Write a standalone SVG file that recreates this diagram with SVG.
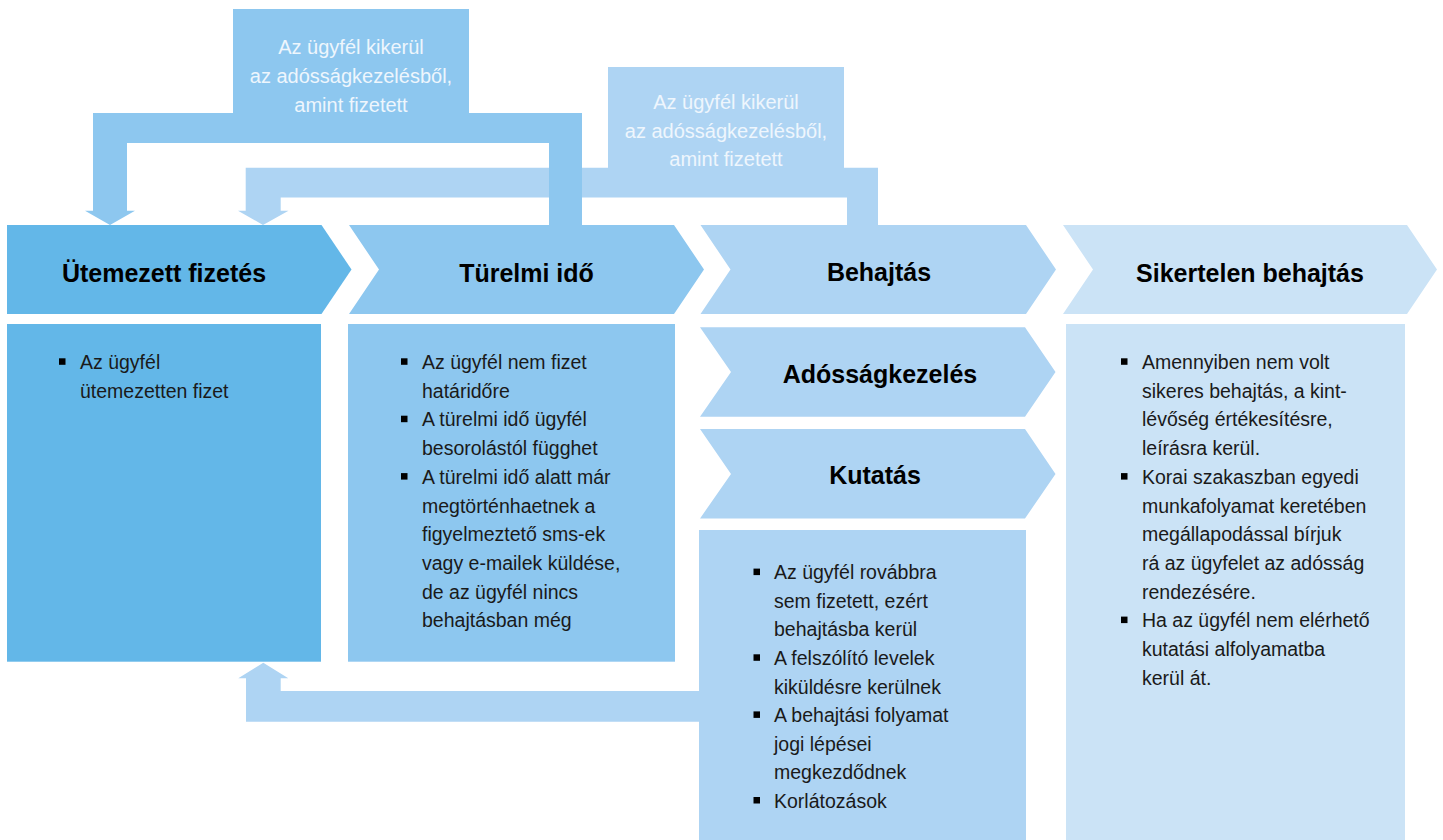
<svg xmlns="http://www.w3.org/2000/svg" width="1443" height="840" viewBox="0 0 1443 840">
<style>
.c1{fill:#63b7e8}
.c2{fill:#8dc7ef}
.c3{fill:#aed4f3}
.c4{fill:#cbe3f6}
.title{font-family:"Liberation Sans",Arial,sans-serif;font-size:25px;font-weight:bold;fill:#000;text-anchor:middle}
.body{font-family:"Liberation Sans",Arial,sans-serif;font-size:19.5px;fill:#1a1a1a}
.lbl{font-family:"Liberation Sans",Arial,sans-serif;font-size:20px;fill:#eef6fd;text-anchor:middle}
.bul{fill:#000}
</style>
<rect width="1443" height="840" fill="#ffffff"/>

<g id="connectors">
  <g id="conn-behajtas-to-utemezett">
    <rect class="c3" x="608" y="67" width="236" height="101"/>
    <polygon class="c3" points="263,225 288.5,210.7 280.7,210.7 280.7,197.5 847,197.5 847,225 878,225 878,167.7 245.7,167.7 245.7,210.7 238,210.7"/>
    <text class="lbl" x="726"><tspan x="726" y="109">Az ügyfél kikerül</tspan><tspan x="726" y="138">az adósságkezelésből,</tspan><tspan x="726" y="166">amint fizetett</tspan></text>
  </g>
  <g id="conn-turelmi-to-utemezett">
    <rect class="c2" x="233" y="9" width="236" height="104"/>
    <polygon class="c2" points="110,225 135,210.7 127,210.7 127,143 549,143 549,225 582,225 582,113 93,113 93,210.7 85,210.7"/>
    <text class="lbl" x="351"><tspan x="351" y="54">Az ügyfél kikerül</tspan><tspan x="351" y="83">az adósságkezelésből,</tspan><tspan x="351" y="112">amint fizetett</tspan></text>
  </g>
  <g id="conn-behajtas-back">
    <polygon class="c3" points="263.3,662.7 288.3,678.3 280.7,678.3 280.7,691 700,691 700,721.7 246,721.7 246,678.3 238.3,678.3"/>
  </g>
</g>

<g id="node-utemezett">
  <polygon class="c1" points="7,225 321.5,225 351.5,269.5 321.5,314 7,314"/>
  <text class="title" x="164" y="282">Ütemezett fizetés</text>
  <rect class="c1" x="7" y="324" width="314" height="337.7"/>
  <rect class="bul" x="59" y="358.3" width="6.5" height="6.5"/>
  <text class="body"><tspan x="80" y="369">Az ügyfél</tspan><tspan x="80" y="397.7">ütemezetten fizet</tspan></text>
</g>

<g id="node-turelmi">
  <polygon class="c2" points="349,225 674,225 704,269.5 674,314 349,314 379,269.5"/>
  <text class="title" x="526.5" y="282">Türelmi idő</text>
  <rect class="c2" x="348" y="324" width="327" height="337.7"/>
  <rect class="bul" x="401" y="358.3" width="6.5" height="6.5"/>
  <rect class="bul" x="401" y="415.7" width="6.5" height="6.5"/>
  <rect class="bul" x="401" y="473.1" width="6.5" height="6.5"/>
  <text class="body"><tspan x="422" y="369">Az ügyfél nem fizet</tspan><tspan x="422" y="397.7">határidőre</tspan><tspan x="422" y="426.4">A türelmi idő ügyfél</tspan><tspan x="422" y="455.1">besorolástól függhet</tspan><tspan x="422" y="483.8">A türelmi idő alatt már</tspan><tspan x="422" y="512.5">megtörténhaetnek a</tspan><tspan x="422" y="541.2">figyelmeztető sms-ek</tspan><tspan x="422" y="569.9">vagy e-mailek küldése,</tspan><tspan x="422" y="598.6">de az ügyfél nincs</tspan><tspan x="422" y="627.3">behajtásban még</tspan></text>
</g>

<g id="node-behajtas">
  <polygon class="c3" points="700.5,225 1026,225 1056,269.5 1026,314 700.5,314 730.5,269.5"/>
  <text class="title" x="879" y="281">Behajtás</text>
</g>

<g id="node-adossagkezeles">
  <polygon class="c3" points="700,327.3 1025,327.3 1055.5,372 1025,416.7 700,416.7 731,372"/>
  <text class="title" x="880" y="383">Adósságkezelés</text>
</g>

<g id="node-kutatas">
  <polygon class="c3" points="700,429 1025,429 1055.5,474 1025,518.5 700,518.5 731,474"/>
  <text class="title" x="875" y="484">Kutatás</text>
</g>

<g id="node-behajtas-details">
  <rect class="c3" x="699" y="530" width="327" height="310"/>
  <rect class="bul" x="753.5" y="568.6" width="6.5" height="6.5"/>
  <rect class="bul" x="753.5" y="654.3" width="6.5" height="6.5"/>
  <rect class="bul" x="753.5" y="711.4" width="6.5" height="6.5"/>
  <rect class="bul" x="753.5" y="797" width="6.5" height="6.5"/>
  <text class="body"><tspan x="774" y="579.3">Az ügyfél rovábbra</tspan><tspan x="774" y="607.9">sem fizetett, ezért</tspan><tspan x="774" y="636.4">behajtásba kerül</tspan><tspan x="774" y="665">A felszólító levelek</tspan><tspan x="774" y="693.5">kiküldésre kerülnek</tspan><tspan x="774" y="722.1">A behajtási folyamat</tspan><tspan x="774" y="750.6">jogi lépései</tspan><tspan x="774" y="779.2">megkezdődnek</tspan><tspan x="774" y="807.7">Korlátozások</tspan></text>
</g>

<g id="node-sikertelen">
  <polygon class="c4" points="1063,225 1407,225 1437,269.5 1407,314 1063,314 1093,269.5"/>
  <text class="title" x="1250" y="282">Sikertelen behajtás</text>
  <rect class="c4" x="1066" y="324" width="339" height="516"/>
  <rect class="bul" x="1121" y="358.3" width="6.5" height="6.5"/>
  <rect class="bul" x="1121" y="473.1" width="6.5" height="6.5"/>
  <rect class="bul" x="1121" y="616.6" width="6.5" height="6.5"/>
  <text class="body"><tspan x="1142" y="369">Amennyiben nem volt</tspan><tspan x="1142" y="397.7">sikeres behajtás, a kint-</tspan><tspan x="1142" y="426.4">lévőség értékesítésre,</tspan><tspan x="1142" y="455.1">leírásra kerül.</tspan><tspan x="1142" y="483.8">Korai szakaszban egyedi</tspan><tspan x="1142" y="512.5">munkafolyamat keretében</tspan><tspan x="1142" y="541.2">megállapodással bírjuk</tspan><tspan x="1142" y="569.9">rá az ügyfelet az adósság</tspan><tspan x="1142" y="598.6">rendezésére.</tspan><tspan x="1142" y="627.3">Ha az ügyfél nem elérhető</tspan><tspan x="1142" y="656">kutatási alfolyamatba</tspan><tspan x="1142" y="684.7">kerül át.</tspan></text>
</g>
</svg>
